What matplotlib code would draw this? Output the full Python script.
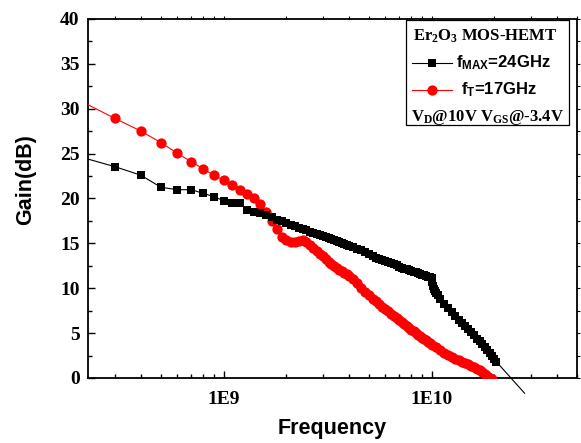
import numpy as np
import matplotlib
matplotlib.use("Agg")
import matplotlib.pyplot as plt
from matplotlib.patches import Rectangle
from matplotlib.lines import Line2D
from matplotlib.ticker import FixedLocator, LogLocator, NullFormatter, MultipleLocator

plt.rcParams['mathtext.fontset'] = 'custom'
plt.rcParams['mathtext.rm'] = 'Liberation Serif:bold'
plt.rcParams['mathtext.sf'] = 'Liberation Sans:bold'
plt.rcParams['mathtext.it'] = 'Liberation Serif:bold'

# sweep grid in GHz
f_low = np.round(np.arange(0.2, 4.01, 0.1), 1)
f_mid = np.round(np.arange(4.2, 10.01, 0.2), 1)
f_hi_mag = [10.1, 10.2, 10.3, 10.4, 10.5, 10.7, 11.0, 11.5, 12.0, 12.5, 13.0, 13.5,
            14.0, 14.5, 15.0, 15.5, 16.0, 16.5, 17.0, 17.5, 18.0, 18.5, 19.0, 19.5,
            20.0, 20.5]
f_hi_h21 = [10.5, 11.0, 11.5, 12.0, 12.5, 13.0, 13.5, 14.0, 14.5, 15.0, 15.5, 16.0,
            16.5, 17.0, 17.5, 18.0, 18.5, 19.0, 19.5]

# MAG (fmax curve), dB
mag_low = [24.7, 23.55, 22.6, 21.25, 20.98, 20.98, 20.57, 20.2, 19.75, 19.46,
           19.46, 18.72, 18.53, 18.35, 18.16, 17.9, 17.65, 17.45, 17.25, 17.08,
           16.92, 16.76, 16.6, 16.46, 16.32, 16.18, 16.05, 15.93, 15.82, 15.7,
           15.6, 15.48, 15.36, 15.25, 15.1, 15.0, 14.9, 14.8, 14.72]
mag_mid = [14.55, 14.4, 14.22, 14.0, 13.82, 13.55, 13.42, 13.3, 13.18, 13.05,
           12.93, 12.8, 12.68, 12.56, 12.4, 12.3, 12.2, 12.1, 12.0, 11.92,
           11.84, 11.76, 11.68, 11.6, 11.52, 11.44, 11.36, 11.28, 11.2, 11.12]
mag_hi = [10.7, 10.3, 9.95, 9.7, 9.5, 9.2, 8.8, 8.2, 7.75, 7.3, 6.9, 6.5,
          6.15, 5.8, 5.45, 5.1, 4.75, 4.4, 4.1, 3.8, 3.45, 3.1, 2.75, 2.45,
          2.1, 1.8]
mag_tail_f = [20.5, 28.0]
mag_tail = [1.8, -1.7]

# |H21| (ft curve), dB
h21_low = [31.0, 28.93, 27.52, 26.22, 25.03, 24.1, 23.29, 22.58, 22.06, 21.47,
           20.95, 20.47, 20.02, 19.39, 18.53, 17.53, 16.57, 15.75, 15.35, 15.2,
           15.2, 15.3, 15.35, 15.15, 14.8, 14.5, 14.15, 13.85, 13.55, 13.25,
           12.95, 12.7, 12.45, 12.25, 12.05, 11.9, 11.75, 11.55, 11.35]
h21_mid = [11.0, 10.55, 10.05, 9.6, 9.2, 8.85, 8.55, 8.25, 7.95, 7.7,
           7.42, 7.15, 6.9, 6.65, 6.42, 6.2, 5.98, 5.77, 5.57, 5.38,
           5.2, 5.02, 4.84, 4.67, 4.5, 4.34, 4.18, 4.02, 3.87, 3.72]
h21_hi = [3.4, 3.1, 2.8, 2.55, 2.35, 2.15, 1.98, 1.82, 1.67, 1.52, 1.37, 1.2,
          1.03, 0.85, 0.65, 0.45, 0.25, 0.05, -0.15]

f_mag = np.concatenate([f_low, f_mid, f_hi_mag]) * 1e9
g_mag = np.concatenate([mag_low, mag_mid, mag_hi])
f_h21 = np.concatenate([f_low, f_mid, f_hi_h21]) * 1e9
g_h21 = np.concatenate([h21_low, h21_mid, h21_hi])

fig = plt.figure(figsize=(5.81, 4.43), dpi=100)
ax = fig.add_axes([88 / 581, 1 - 378 / 443, 489 / 581, 359 / 443])

ax.plot(f_h21, g_h21, color='red', lw=0.8, marker='o', ms=7.4,
        markeredgewidth=0, zorder=3)
ax.plot(f_mag, g_mag, color='black', lw=0.8, marker='s', ms=6.3,
        markeredgewidth=0, zorder=4)
ax.plot(np.array(mag_tail_f) * 1e9, mag_tail, color='black', lw=0.8,
        clip_on=False, zorder=4)

ax.set_xscale('log')
ax.set_xlim(2.23e8, 5.0e10)
ax.set_ylim(0, 40)

ax.xaxis.set_major_locator(FixedLocator([1e9, 1e10]))
ax.set_xticklabels(['1E9', '1E10'])
ax.xaxis.set_minor_locator(LogLocator(base=10, subs=np.arange(2, 10)))
ax.xaxis.set_minor_formatter(NullFormatter())
ax.yaxis.set_major_locator(MultipleLocator(5))
ax.yaxis.set_minor_locator(MultipleLocator(2.5))

ax.tick_params(which='both', direction='in', width=1.0)
ax.tick_params(which='major', length=5)
ax.tick_params(which='minor', length=3)
ax.tick_params(axis='x', which='major', pad=9)
ax.tick_params(axis='y', which='major', pad=6)
for lab in ax.get_xticklabels() + ax.get_yticklabels():
    lab.set_fontfamily('Liberation Serif')
    lab.set_fontweight('bold')
    lab.set_fontsize(14)
for sp in ax.spines.values():
    sp.set_linewidth(1.3)

# small outward ticks on top and right
axr = ax.twinx()
axr.set_ylim(0, 40)
axr.yaxis.set_major_locator(MultipleLocator(5))
axr.yaxis.set_minor_locator(MultipleLocator(2.5))
axr.tick_params(which='both', direction='out', length=2, width=0.8, labelright=False)
axt = ax.twiny()
axt.set_xscale('log')
axt.set_xlim(2.23e8, 5.0e10)
axt.xaxis.set_major_locator(FixedLocator([1e9, 1e10]))
axt.xaxis.set_minor_locator(LogLocator(base=10, subs=np.arange(2, 10)))
axt.tick_params(which='both', direction='out', length=2, width=0.8, labeltop=False)
axt.xaxis.set_minor_formatter(NullFormatter())
for a in (axr, axt):
    for sp in a.spines.values():
        sp.set_visible(False)

ax.set_xlabel('Frequency', fontfamily='Liberation Sans', fontweight='bold',
              fontsize=15.5, va='center')
ax.set_ylabel('Gain(dB)', fontfamily='Liberation Sans', fontweight='bold',
              fontsize=15.5, va='center')
ax.xaxis.set_label_coords(0.5, -0.142)
ax.yaxis.set_label_coords(-0.127, 0.552)

# legend box
ax.add_patch(Rectangle((0.650, 0.705), 0.334, 0.292, transform=ax.transAxes,
                       fill=False, edgecolor='black', lw=0.9, zorder=6))
ax.text(0.812, 0.953, r'Er$_{2}$O$_{3}$ MOS-HEMT', transform=ax.transAxes,
        ha='center', va='center', fontfamily='Liberation Serif',
        fontweight='bold', fontsize=12, zorder=7)
ax.add_line(Line2D([0.663, 0.744], [0.877, 0.877], transform=ax.transAxes,
                   color='black', lw=0.8, zorder=7))
ax.plot([0.704], [0.877], transform=ax.transAxes, marker='s', ms=6.3,
        color='black', markeredgewidth=0, zorder=7)
ax.text(0.753, 0.877, r'f$_{\mathsf{MAX}}$=24GHz', transform=ax.transAxes,
        ha='left', va='center', fontfamily='Liberation Sans',
        fontweight='bold', fontsize=12, zorder=7)
ax.add_line(Line2D([0.663, 0.744], [0.802, 0.802], transform=ax.transAxes,
                   color='red', lw=0.8, zorder=7))
ax.plot([0.704], [0.802], transform=ax.transAxes, marker='o', ms=7.4,
        color='red', markeredgewidth=0, zorder=7)
ax.text(0.763, 0.802, r'f$_{\mathsf{T}}$=17GHz', transform=ax.transAxes,
        ha='left', va='center', fontfamily='Liberation Sans',
        fontweight='bold', fontsize=12, zorder=7)
ax.text(0.817, 0.727, r'V$_{\mathrm{D}}$@10V V$_{\mathrm{GS}}$@-3.4V',
        transform=ax.transAxes, ha='center', va='center',
        fontfamily='Liberation Serif', fontweight='bold', fontsize=12, zorder=7)

fig.savefig('out.png', dpi=100)
